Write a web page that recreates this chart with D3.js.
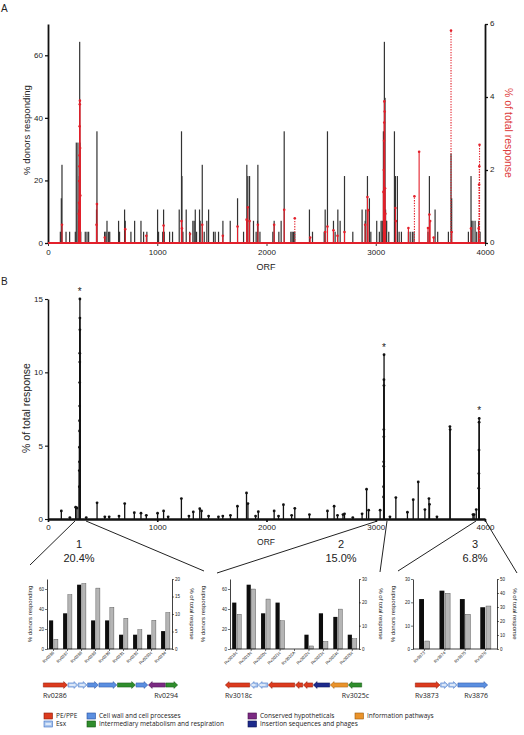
<!DOCTYPE html>
<html><head><meta charset="utf-8">
<script src="https://cdn.jsdelivr.net/npm/d3@7"></script>
<style>
body{margin:0;background:#fff}
svg{display:block}
text{font-family:"Liberation Sans",Arial,sans-serif;fill:#222}
.gl text{font-family:"Open Sans","Noto Sans",sans-serif}
</style>
</head><body><svg id="c" width="524" height="735"></svg>
<script>
// ---------------- DATA ----------------
// Panel A: % donors responding per ORF (black bars)
const orfA = [113,122,128,165,198,250,259,274,280,284,287,290,293,296,300,341,357,372,444,448,518,530,540,555,565,646,655,701,707,759,793,851,875,905,1003,1012,1050,1058,1064,1113,1140,1201,1222,1226,1235,1265,1296,1326,1338,1348,1360,1387,1393,1412,1430,1454,1470,1515,1530,1561,1601,1668,1735,1790,1820,1829,1845,1881,1905,1918,1921,1940,2058,2070,2113,2134,2162,2223,2235,2247,2259,2393,2421,2528,2537,2558,2613,2628,2653,2674,2714,2790,2875,2903,2909,2924,2942,2955,3009,3033,3049,3060,3065,3070,3075,3079,3085,3090,3094,3100,3119,3171,3180,3198,3214,3235,3299,3315,3335,3350,3478,3491,3543,3567,3665,3689,3695,3848,3872,3878,3890,3909,3924,3942,3955];
const donorsA = [3.6,14.3,25,3.6,3.6,3.6,32.1,32.1,7.1,10.7,21.4,64.3,32.1,10.7,3.6,3.6,3.6,3.6,10.7,35.7,3.6,3.6,7.1,3.6,3.6,7.1,3.6,10.7,7.1,3.6,7.1,7.1,3.6,3.6,10.7,3.6,3.6,10.7,3.6,3.6,3.6,10.7,35.7,21.4,3.6,10.7,3.6,7.1,7.1,10.7,3.6,10.7,7.1,25,3.6,7.1,10.7,3.6,3.6,3.6,7.1,7.1,14.3,3.6,25,21.4,21.4,7.1,3.6,7.1,25,3.6,3.6,7.1,3.6,7.1,35.7,3.6,3.6,3.6,3.6,10.7,3.6,3.6,10.7,35.7,7.1,3.6,10.7,7.1,21.4,3.6,10.7,7.1,10.7,21.4,14.3,3.6,7.1,3.6,7.1,7.1,3.6,35.7,21.4,64.3,46.4,10.7,7.1,7.1,3.6,35.7,21.4,21.4,3.6,3.6,3.6,3.6,3.6,3.6,3.6,21.4,10.7,3.6,3.6,28.6,14.3,3.6,21.4,7.1,7.1,7.1,3.6,7.1,3.6];
// Panel A: % of total response (red, right axis)
const redOrf = [128,282,284,286,288,289,290,291,292,294,296,444,448,707,1058,1222,1226,1412,1735,1818,1829,1845,1921,2070,2162,2537,2558,2613,2714,2903,2924,2930,3070,3074,3076,3078,3079,3082,3085,3088,3180,3184,3299,3397,3478,3491,3498,3695,3872,3942,520,900,1300,1600,2400,2650,3530];
const redVal = [0.5,0.8,1.1,1.7,2.1,2.4,3.2,3.8,3.9,2.6,1.3,0.5,1.07,0.38,0.48,0.6,0.4,0.5,0.45,0.64,0.98,0.6,0.5,0.5,0.91,0.3,0.45,0.35,0.3,0.5,1.26,0.9,1.4,2.0,2.8,3.3,3.88,3.6,1.5,0.8,0.96,0.6,0.41,2.5,0.41,0.78,0.6,0.3,0.4,0.4,0.15,0.2,0.25,0.2,0.15,0.2,0.15];
const redDotOrf = [2259,3354,3689,3946,3948,3950];
const redDotVal = [0.68,1.28,5.82,1.6,2.1,2.69];
// Panel B: % of total response
const orfB = [122,253,265,287,287,288,288,289,289,290,290,291,291,292,292,292,449,702,790,851,1003,1058,1221,1330,1389,1405,1734,1817,1830,1925,2070,2155,2259,2393,2558,2619,2714,2875,2916,2935,3040,3072,3072,3073,3073,3074,3074,3075,3075,3076,3184,3290,3343,3389,3450,3487,3492,3679,3681,3890,3920,3943,3944,3945,3946,3947,200,350,520,560,650,900,1100,1290,1470,1560,1600,1670,1900,2110,2230,2650,2700,2790,3130,3560,3900];
const valB = [0.55,0.8,0.75,2.2,3.3,3.9,4.9,6.0,6.7,7.7,9.3,10.7,11.3,12.9,13.7,15,1.1,1.05,0.43,0.4,0.4,0.55,1.39,0.48,0.7,0.55,0.87,1.78,1.05,0.5,0.55,0.98,0.73,0.3,0.55,0.87,0.35,0.35,2.03,0.6,0.6,1.5,2.2,3.6,3.9,5.6,6.1,9.1,9.5,11.2,1.46,0.46,1.32,2.53,0.64,1.39,1.0,6.3,6.1,0.3,0.64,2.1,3.1,4.7,6.6,6.86,0.1,0.1,0.15,0.15,0.2,0.25,0.15,0.2,0.2,0.15,0.2,0.25,0.2,0.2,0.25,0.25,0.3,0.1,0.15,0.15,0.3];
const starOrf = [290,3076,3947];
const starVal = [15,11.2,6.86];
const regionStart = [247,3015,3918];
const regionEnd = [348,3103,4005];
const regionName = ["1","2","3"];
const regionPct = ["20.4%","15.0%","6.8%"];
const orfTicks = [0,1000,2000,3000,4000];
// Insets
const inset1Labels = ["Rv0286","Rv0287","Rv0288","Rv0289","Rv0290","Rv0291","Rv0292","Rv0293c","Rv0294"];
const inset1Donors = [28.6,35.7,64.3,28.6,28.6,14.3,14.3,14.3,17.9];
const inset1Resp = [2.8,15.5,18.7,17.4,11.9,8.8,5.5,8.2,10.4];
const inset2Labels = ["Rv3018c","Rv3019c","Rv3020c","Rv3021c","Rv3022A","Rv3022c","Rv3023c","Rv3024c","Rv3025c"];
const inset2Donors = [46.4,64.3,35.7,46.4,0,14.3,35.7,32.1,14.3];
const inset2Resp = [14.9,25.7,21.4,12.1,0,1.3,3.2,17.1,4.4];
const inset3Labels = ["Rv3873","Rv3874","Rv3875","Rv3876"];
const inset3Donors = [21.4,25,21.4,17.9];
const inset3Resp = [5.7,39.8,24.8,30.7];
// Gene maps (relative gene lengths, category, strand)
const geneLen1 = [24,10,9,11,18,18,12,17,12];
const geneCat1 = ["pe","esx","esx","cw","cw","im","cw","ch","im"];
const geneDir1 = [1,1,1,1,1,1,1,-1,1];
const geneEnds1 = ["Rv0286","Rv0294"];
const geneLen2 = [25,8,10,27,8,10,17,18,14];
const geneCat2 = ["pe","esx","esx","pe","pe","pe","is","ip","im"];
const geneDir2 = [-1,-1,-1,-1,-1,-1,-1,-1,-1];
const geneEnds2 = ["Rv3018c","Rv3025c"];
const geneLen3 = [25,8,9,30];
const geneCat3 = ["pe","esx","esx","cw"];
const geneDir3 = [1,1,1,1];
const geneEnds3 = ["Rv3873","Rv3876"];
const legendCats = ["pe","esx","cw","im","ch","is","ip"];
const legendLabels = ["PE/PPE","Esx","Cell wall and cell processes","Intermediary metabolism and respiration","Conserved hypotheticals","Insertion sequences and phages","Information pathways"];

// ---------------- STYLE ----------------
const catFill = {pe:"#dc3b1e",esx:"#a9c5ee",cw:"#5b8fe0",im:"#2f8d2c",ch:"#7b2a82",is:"#1d2a8c",ip:"#ea932b"};
const catStroke = {pe:"#8a1a08",esx:"#3d6fc2",cw:"#264f9e",im:"#125412",ch:"#48104c",is:"#0b1352",ip:"#9a5a0c"};
const RED = "#e3202b";
const svg = d3.select("#c");
const fmt = d3.format("d");

function styleAxis(g, sw, fs) {
  g.selectAll(".domain").attr("stroke","#111").attr("stroke-width",sw);
  g.selectAll(".tick line").attr("stroke","#111").attr("stroke-width",Math.max(0.6,sw*0.7));
  g.selectAll(".tick text").attr("font-size",fs).attr("fill","#333").attr("font-family","Liberation Sans, Arial, sans-serif");
}

// ---------------- PANEL A ----------------
const xA = d3.scaleLinear([0,4000],[48,485]);
const yA = d3.scaleLinear([0,70],[243,24]);
const yAr = d3.scaleLinear([0,6],[243,24]);

svg.append("text").attr("x",1).attr("y",12).attr("font-size",10).text("A");

svg.append("g").selectAll("rect").data(orfA).join("rect")
  .attr("x",(d)=>xA(d)-0.6).attr("width",1.2)
  .attr("y",(d,i)=>yA(donorsA[i])).attr("height",(d,i)=>yA(0)-yA(donorsA[i]))
  .attr("fill","#333");

const gAx = svg.append("g").attr("transform",`translate(0,${yA(0)})`)
  .call(d3.axisBottom(xA).tickValues(orfTicks).tickFormat(fmt).tickSize(3).tickSizeOuter(0).tickPadding(3));
styleAxis(gAx,1.2,8);
const gAl = svg.append("g").attr("transform",`translate(${xA(0)},0)`)
  .call(d3.axisLeft(yA).tickValues([0,20,40,60]).tickFormat(fmt).tickSize(3).tickSizeOuter(0).tickPadding(2));
styleAxis(gAl,1.8,8);
const gAr = svg.append("g").attr("transform",`translate(${xA(4000)},0)`)
  .call(d3.axisRight(yAr).tickValues([0,2,4,6]).tickFormat(fmt).tickSize(3).tickSizeOuter(0).tickPadding(2));
styleAxis(gAr,1.8,8);
gAr.selectAll(".tick text").attr("dy","0.2em");

// red series
const gRed = svg.append("g");
gRed.append("line").attr("x1",xA(0)).attr("x2",xA(4000)).attr("y1",yAr(0)).attr("y2",yAr(0))
  .attr("stroke",RED).attr("stroke-width",2);
gRed.selectAll("line.s").data(redOrf).join("line").attr("class","s")
  .attr("x1",d=>xA(d)).attr("x2",d=>xA(d)).attr("y1",yAr(0)).attr("y2",(d,i)=>yAr(redVal[i]))
  .attr("stroke",RED).attr("stroke-width",1.1);
gRed.selectAll("line.d").data(redDotOrf).join("line").attr("class","d")
  .attr("x1",d=>xA(d)).attr("x2",d=>xA(d)).attr("y1",yAr(0)).attr("y2",(d,i)=>yAr(redDotVal[i]))
  .attr("stroke",RED).attr("stroke-width",1.1).attr("stroke-dasharray","1.3,1.3");
gRed.selectAll("circle.s").data(redOrf).join("circle").attr("class","s")
  .attr("cx",d=>xA(d)).attr("cy",(d,i)=>yAr(redVal[i])).attr("r",1.3).attr("fill",RED);
gRed.selectAll("circle.d").data(redDotOrf).join("circle").attr("class","d")
  .attr("cx",d=>xA(d)).attr("cy",(d,i)=>yAr(redDotVal[i])).attr("r",1.3).attr("fill",RED);

svg.append("text").attr("x",266).attr("y",270).attr("text-anchor","middle").attr("font-size",9).text("ORF");
svg.append("text").attr("transform","translate(30,130) rotate(-90)").attr("text-anchor","middle").attr("font-size",9.5).attr("fill","#333").text("% donors responding");
svg.append("text").attr("transform","translate(505,133) rotate(90)").attr("text-anchor","middle").attr("font-size",10.5).style("fill","#dd3a3a").text("% of total response");

// ---------------- PANEL B ----------------
const xB = d3.scaleLinear([0,4000],[48,485]);
const yB = d3.scaleLinear([0,15],[519,299]);
svg.append("text").attr("x",1).attr("y",285).attr("font-size",10).text("B");

const gBx = svg.append("g").attr("transform",`translate(0,${yB(0)})`)
  .call(d3.axisBottom(xB).tickValues(orfTicks).tickFormat(fmt).tickSize(3).tickSizeOuter(0).tickPadding(2));
styleAxis(gBx,2.4,8);
const gBl = svg.append("g").attr("transform",`translate(${xB(0)},0)`)
  .call(d3.axisLeft(yB).tickValues([0,5,10,15]).tickFormat(fmt).tickSize(3).tickSizeOuter(0).tickPadding(2));
styleAxis(gBl,1.6,8);

const gB = svg.append("g");
gB.selectAll("line").data(orfB).join("line")
  .attr("x1",d=>xB(d)).attr("x2",d=>xB(d)).attr("y1",yB(0)).attr("y2",(d,i)=>yB(valB[i]))
  .attr("stroke","#111").attr("stroke-width",1.3);
gB.selectAll("circle").data(orfB).join("circle")
  .attr("cx",d=>xB(d)).attr("cy",(d,i)=>yB(valB[i])).attr("r",1.4).attr("fill","#111");
svg.append("g").selectAll("text").data(starOrf).join("text")
  .attr("x",d=>xB(d)).attr("y",(d,i)=>yB(starVal[i])-4).attr("text-anchor","middle").attr("font-size",10).text("*");

svg.append("text").attr("x",266).attr("y",545).attr("text-anchor","middle").attr("font-size",8.5).text("ORF");
svg.append("text").attr("transform","translate(30,408) rotate(-90)").attr("text-anchor","middle").attr("font-size",10.5).attr("fill","#333").text("% of total response");

// ---------------- INSETS ----------------
const insets = [
  {labels:inset1Labels,donors:inset1Donors,resp:inset1Resp,left:47,right:172,dMax:70,dT:[0,20,40,60],rMax:20,rT:[0,5,10,15,20],pi:0.37,po:0.15,ll:32,rl:190,
   corners:[[30,565],[204,571]],name:79,genes:[geneLen1,geneCat1,geneDir1,geneEnds1],gx:[43,178]},
  {labels:inset2Labels,donors:inset2Donors,resp:inset2Resp,left:230,right:359,dMax:70,dT:[0,20,40,60],rMax:30,rT:[0,10,20,30],pi:0.37,po:0.15,ll:205,rl:379,
   corners:[[217,573],[380,572]],name:341,genes:[geneLen2,geneCat2,geneDir2,geneEnds2],gx:[225,362]},
  {labels:inset3Labels,donors:inset3Donors,resp:inset3Resp,left:413,right:497,dMax:30,dT:[0,10,20,30],rMax:50,rT:[0,10,20,30,40,50],pi:0.48,po:0.3,ll:395,rl:513,
   corners:[[398,571],[517,573]],name:475,genes:[geneLen3,geneCat3,geneDir3,geneEnds3],gx:[415,488]}
];
const TOP = 579, BOT = 649;

function arrowPath(x0,x1,y,dir){
  const bh=2.1, hh=3.4, hl=Math.min(3.8,(x1-x0)*0.55);
  if(dir>0) return `M${x0},${y-bh}L${x1-hl},${y-bh}L${x1-hl},${y-hh}L${x1},${y}L${x1-hl},${y+hh}L${x1-hl},${y+bh}L${x0},${y+bh}Z`;
  return `M${x1},${y-bh}L${x0+hl},${y-bh}L${x0+hl},${y-hh}L${x0},${y}L${x0+hl},${y+hh}L${x0+hl},${y+bh}L${x1},${y+bh}Z`;
}

insets.forEach((c,k)=>{
  // zoom lines
  svg.append("line").attr("x1",xB(regionStart[k])).attr("y1",yB(0)+2).attr("x2",c.corners[0][0]).attr("y2",c.corners[0][1])
    .attr("stroke","#222").attr("stroke-width",1);
  svg.append("line").attr("x1",xB(regionEnd[k])).attr("y1",yB(0)+2).attr("x2",c.corners[1][0]).attr("y2",c.corners[1][1])
    .attr("stroke","#222").attr("stroke-width",1);
  svg.append("text").attr("x",c.name).attr("y",548).attr("text-anchor","middle").attr("font-size",11).text(regionName[k]);
  svg.append("text").attr("x",c.name).attr("y",562).attr("text-anchor","middle").attr("font-size",11).text(regionPct[k]);

  const x0 = d3.scaleBand(c.labels,[c.left,c.right]).paddingInner(c.pi).paddingOuter(c.po);
  const x1 = d3.scaleBand(["d","r"],[0,x0.bandwidth()]).paddingInner(0.15);
  const yL = d3.scaleLinear([0,c.dMax],[BOT,TOP]);
  const yR = d3.scaleLinear([0,c.rMax],[BOT,TOP]);
  const g = svg.append("g");
  g.selectAll("rect.d").data(c.labels).join("rect").attr("class","d")
    .attr("x",d=>x0(d)+x1("d")).attr("width",x1.bandwidth())
    .attr("y",(d,i)=>yL(c.donors[i])).attr("height",(d,i)=>BOT-yL(c.donors[i])).attr("fill","#0d0d0d");
  g.selectAll("rect.r").data(c.labels).join("rect").attr("class","r")
    .attr("x",d=>x0(d)+x1("r")).attr("width",x1.bandwidth())
    .attr("y",(d,i)=>yR(c.resp[i])).attr("height",(d,i)=>BOT-yR(c.resp[i]))
    .attr("fill","#b5b5b5").attr("stroke","#444").attr("stroke-width",0.4);
  const al = g.append("g").attr("transform",`translate(${c.left},0)`)
    .call(d3.axisLeft(yL).tickValues(c.dT).tickFormat(fmt).tickSize(2).tickSizeOuter(0).tickPadding(1));
  styleAxis(al,0.8,4.5);
  const ar = g.append("g").attr("transform",`translate(${c.right},0)`)
    .call(d3.axisRight(yR).tickValues(c.rT).tickFormat(fmt).tickSize(2).tickSizeOuter(0).tickPadding(1));
  styleAxis(ar,0.8,4.5);
  g.append("line").attr("x1",c.left).attr("x2",c.right).attr("y1",BOT).attr("y2",BOT).attr("stroke","#111").attr("stroke-width",0.8);
  g.selectAll("line.t").data(c.labels).join("line").attr("class","t")
    .attr("x1",d=>x0(d)+x0.bandwidth()/2).attr("x2",d=>x0(d)+x0.bandwidth()/2).attr("y1",BOT).attr("y2",BOT+2)
    .attr("stroke","#111").attr("stroke-width",0.6);
  g.selectAll("text.xl").data(c.labels).join("text").attr("class","xl")
    .attr("transform",d=>`translate(${x0(d)+x0.bandwidth()/2+1},${BOT+4}) rotate(-45)`)
    .attr("text-anchor","end").attr("font-size",4.2).attr("fill","#333").text(d=>d);
  g.append("text").attr("transform",`translate(${c.ll},${(TOP+BOT)/2}) rotate(-90)`).attr("text-anchor","middle")
    .attr("font-size",6).attr("fill","#333").text("% donors responding");
  g.append("text").attr("transform",`translate(${c.rl},${(TOP+BOT)/2}) rotate(90)`).attr("text-anchor","middle")
    .attr("font-size",6).attr("fill","#333").text("% of total response");

  // gene map
  const [lens,cats,dirs,ends] = c.genes;
  const cum = [0]; lens.forEach(l=>cum.push(cum[cum.length-1]+l));
  const gxs = d3.scaleLinear([0,cum[cum.length-1]],c.gx);
  const gm = svg.append("g").attr("class","gl");
  const GY = 685;
  lens.forEach((l,i)=>{
    const a = gxs(cum[i]), b = gxs(cum[i+1]);
    gm.append("path").attr("d",arrowPath(a+0.3,b-0.3,GY,dirs[i]))
      .attr("fill",catFill[cats[i]]).attr("stroke",catStroke[cats[i]]).attr("stroke-width",0.5);
    if(cats[i]==="esx"){
      gm.append("line").attr("x1",a+1.5).attr("x2",b-2.5).attr("y1",GY).attr("y2",GY).attr("stroke","#fff").attr("stroke-width",1.2);
    }
  });
  gm.append("text").attr("x",c.gx[0]).attr("y",698).attr("font-size",7).attr("fill","#333").text(ends[0]);
  gm.append("text").attr("x",c.gx[1]+(k===1?7:0)).attr("y",698).attr("text-anchor","end").attr("font-size",7).attr("fill","#333").text(ends[1]);
});

// ---------------- LEGEND ----------------
const legCol = [44,87,248,355];
const legRow = [716,724];
const legPos = [[0,0],[0,1],[1,0],[1,1],[2,0],[2,1],[3,0]];
const lg = svg.append("g").attr("class","gl");
legendCats.forEach((cat,i)=>{
  const [ci,ri] = legPos[i];
  lg.append("rect").attr("x",legCol[ci]).attr("y",legRow[ri]-3).attr("width",8.5).attr("height",6)
    .attr("fill",catFill[cat]).attr("stroke",catStroke[cat]).attr("stroke-width",0.6);
  if(cat==="esx") lg.append("line").attr("x1",legCol[ci]+1.5).attr("x2",legCol[ci]+7).attr("y1",legRow[ri]).attr("y2",legRow[ri]).attr("stroke","#fff").attr("stroke-width",1.2);
  lg.append("text").attr("x",legCol[ci]+12).attr("y",legRow[ri]+2.3).attr("font-size",6.5).attr("fill","#333").text(legendLabels[i]);
});
</script>
</body></html>
